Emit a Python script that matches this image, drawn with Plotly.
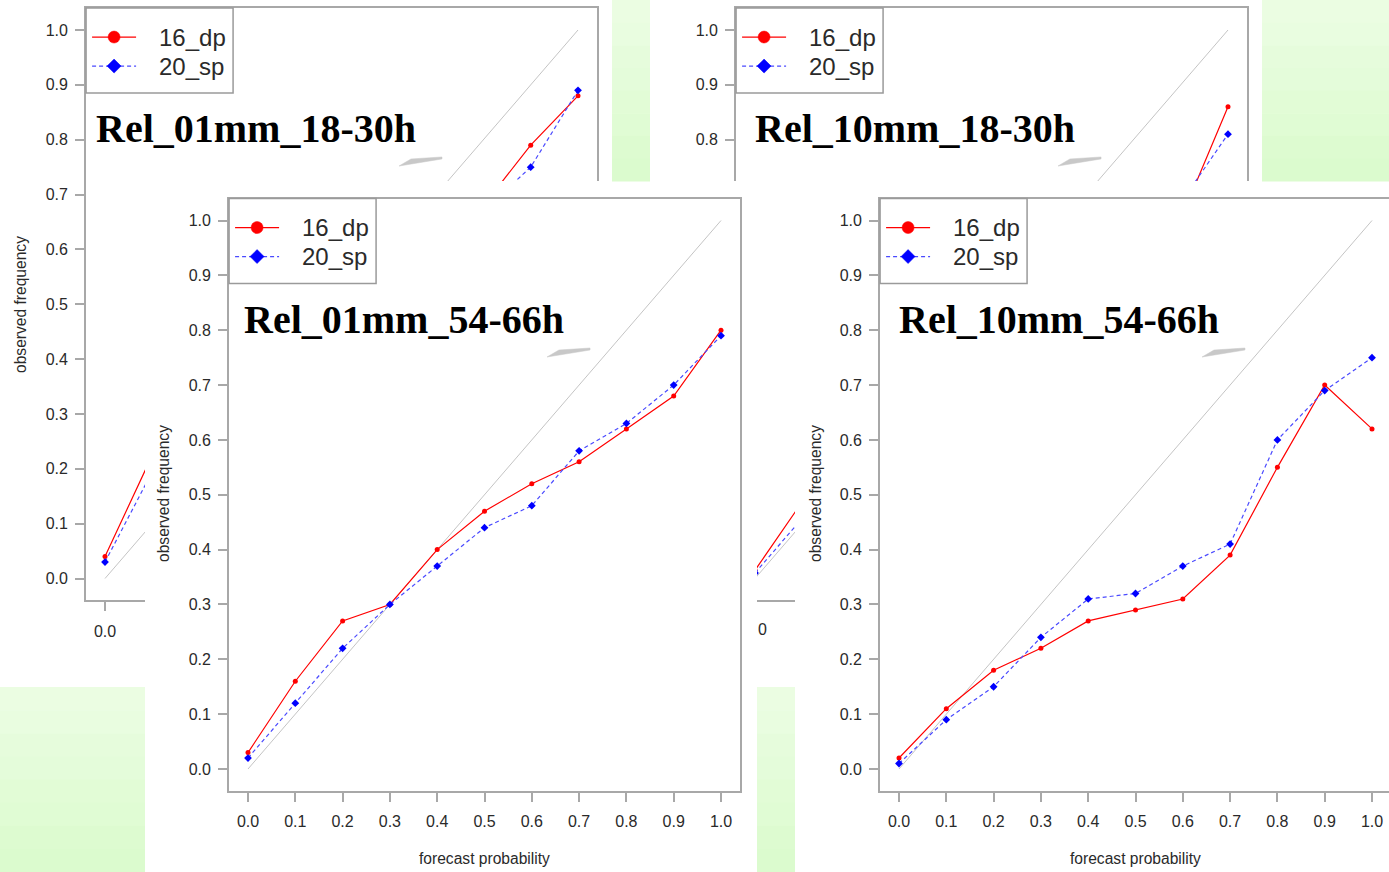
import plotly.graph_objects as go

W, H = 1389, 872

# ---------------- data ----------------
prob = [0.0, 0.1, 0.2, 0.3, 0.4, 0.5, 0.6, 0.7, 0.8, 0.9, 1.0]
tl_dp = [0.04, 0.225, 0.34, 0.42, 0.49, 0.55, 0.60, 0.64, 0.68, 0.79, 0.88]
tl_sp = [0.03, 0.195, 0.30, 0.39, 0.46, 0.52, 0.57, 0.62, 0.67, 0.75, 0.89]
tr_dp = [0.015, 0.14, 0.22, 0.27, 0.32, 0.36, 0.41, 0.46, 0.55, 0.655, 0.86]
tr_sp = [0.01, 0.11, 0.20, 0.26, 0.31, 0.36, 0.42, 0.49, 0.57, 0.685, 0.81]
bl_dp = [0.03, 0.16, 0.27, 0.30, 0.40, 0.47, 0.52, 0.56, 0.62, 0.68, 0.80]
bl_sp = [0.02, 0.12, 0.22, 0.30, 0.37, 0.44, 0.48, 0.58, 0.63, 0.70, 0.79]
br_dp = [0.02, 0.11, 0.18, 0.22, 0.27, 0.29, 0.31, 0.39, 0.55, 0.70, 0.62]
br_sp = [0.01, 0.09, 0.15, 0.24, 0.31, 0.32, 0.37, 0.41, 0.60, 0.69, 0.75]
diag_x = [0.0, 1.0]
diag_y = [0.0, 1.0]
series_names = ["16_dp", "20_sp"]
titles = ["Rel_01mm_18-30h", "Rel_10mm_18-30h", "Rel_01mm_54-66h", "Rel_10mm_54-66h"]
tick_vals = [0.0, 0.1, 0.2, 0.3, 0.4, 0.5, 0.6, 0.7, 0.8, 0.9, 1.0]
tick_text = ["0.0", "0.1", "0.2", "0.3", "0.4", "0.5", "0.6", "0.7", "0.8", "0.9", "1.0"]
x_title = "forecast probability"
y_title = "observed frequency"

# ---------------- styles ----------------
RED = "#ff0000"
BLUE = "#0000ff"
BLUE_LINE = "#4a4aff"
BOX = "#a8a8a8"
DIAG = "#c4c4c4"
TXT = "#2a2a2a"
SANS = "Liberation Sans, Arial, sans-serif"
SERIF = "Liberation Serif, Times New Roman, serif"
GREEN_TOP = (236, 253, 228)
GREEN_BOT = (218, 251, 204)
DASH = "4px,3px"

SX, SY = 473.0, 548.5


def fx(px):
    return px / W


def fy(py):
    return 1 - py / H


# panel origins (pixel of data point (0,0))
panels = {
    "TL": dict(ox=105.0, oy=578.5, dp=tl_dp, sp=tl_sp),
    "TR": dict(ox=755.0, oy=578.5, dp=tr_dp, sp=tr_sp),
    "BL": dict(ox=248.0, oy=769.0, dp=bl_dp, sp=bl_sp),
    "BR": dict(ox=899.0, oy=769.0, dp=br_dp, sp=br_sp),
}


def box(p):
    o = panels[p]
    return [o["ox"] - 0.04 * SX, o["ox"] + 1.04 * SX, o["oy"] - 1.04 * SY, o["oy"] + 0.04 * SY]


tlb, trb, blb, brb = box("TL"), box("TR"), box("BL"), box("BR")
pieces = [
    ("TL", [tlb[0], 145, tlb[2], tlb[3]], "strip_left"),
    ("TL", [145, tlb[1], tlb[2], 181], "band_right"),
    ("TR", [trb[0], trb[1], trb[2], 181], "band_full"),
    ("TR", [757, 795, 181, trb[3]], "strip_mid"),
    ("BL", [blb[0], blb[1], blb[2], blb[3]], "full"),
    ("BR", [brb[0], 1389, brb[2], brb[3]], "full_open"),
]

fig = go.Figure()
layout = dict(
    width=W, height=H, autosize=False,
    margin=dict(l=0, r=0, t=0, b=0, pad=0),
    paper_bgcolor="white", plot_bgcolor="rgba(0,0,0,0)",
    showlegend=False,
)

tickfont = dict(family=SANS, size=16, color=TXT)
XSTAND, YSTAND = 6, 4

for i, (pname, rect, style) in enumerate(pieces):
    o = panels[pname]
    k = "" if i == 0 else str(i + 1)
    xr = [(rect[0] - o["ox"]) / SX, (rect[1] - o["ox"]) / SX]
    yr = [(o["oy"] - rect[3]) / SY, (o["oy"] - rect[2]) / SY]
    xa = dict(domain=[fx(rect[0]), fx(rect[1])], range=xr, anchor="y" + k,
              showgrid=False, zeroline=False, showline=True, linecolor=BOX, linewidth=2,
              ticks="", showticklabels=False, fixedrange=True)
    ya = dict(domain=[fy(rect[3]), fy(rect[2])], range=yr, anchor="x" + k,
              showgrid=False, zeroline=False, showline=True, linecolor=BOX, linewidth=2,
              ticks="", showticklabels=False, fixedrange=True)
    tick_common = dict(ticks="outside", ticklen=9, tickwidth=1.5, tickcolor=BOX,
                       showticklabels=True, tickvals=tick_vals, ticktext=tick_text,
                       tickfont=tickfont)
    if style == "strip_left":
        xa.update(mirror=True, ticklabelstandoff=XSTAND, **tick_common)
        xa["tickvals"] = tick_vals[:1]
        xa["ticktext"] = tick_text[:1]
        ya.update(ticklabelstandoff=YSTAND, **tick_common)
    elif style == "band_right":
        xa.update(side="top")
        ya.update(side="right")
    elif style == "band_full":
        xa.update(side="top")
        ya.update(mirror=True, ticklabelstandoff=YSTAND, **tick_common)
    elif style == "strip_mid":
        ya.update(showline=False)
    elif style == "full":
        xa.update(mirror=True, ticklabelstandoff=XSTAND, **tick_common)
        ya.update(mirror=True, ticklabelstandoff=YSTAND, **tick_common)
    elif style == "full_open":
        xa.update(mirror=True, ticklabelstandoff=XSTAND, **tick_common)
        ya.update(ticklabelstandoff=YSTAND, **tick_common)
    layout["xaxis" + k] = xa
    layout["yaxis" + k] = ya

    xs, ys = "x" + k, "y" + k
    fig.add_trace(go.Scatter(x=diag_x, y=diag_y, mode="lines", xaxis=xs, yaxis=ys,
                             line=dict(color=DIAG, width=1), showlegend=False, hoverinfo="skip"))
    fig.add_trace(go.Scatter(x=prob, y=o["dp"], mode="lines+markers", xaxis=xs, yaxis=ys,
                             name=series_names[0], showlegend=False,
                             line=dict(color=RED, width=1.2),
                             marker=dict(color=RED, size=5, symbol="circle")))
    fig.add_trace(go.Scatter(x=prob, y=o["sp"], mode="lines+markers", xaxis=xs, yaxis=ys,
                             name=series_names[1], showlegend=False,
                             line=dict(color=BLUE_LINE, width=1.2, dash=DASH),
                             marker=dict(color=BLUE, size=6, symbol="diamond")))

# ---------------- annotations ----------------
ann = []
shapes = []
title_pos = {"TL": (94, 128), "TR": (753, 128), "BL": (242, 319), "BR": (897, 319)}
for t, pname in zip(titles, ["TL", "TR", "BL", "BR"]):
    tx, ty = title_pos[pname]
    ann.append(dict(text="<b>" + t + "</b>", x=fx(tx), y=fy(ty), xref="paper", yref="paper",
                    xanchor="left", yanchor="middle", showarrow=False,
                    font=dict(family=SERIF, size=40, color="black")))

axfont = dict(family=SANS, size=15.6, color=TXT)
for (x, y) in [(20, 305), (163, 494), (815, 494)]:
    ann.append(dict(text=y_title, x=fx(x), y=fy(y), xref="paper", yref="paper",
                    xanchor="center", yanchor="middle", textangle=-90, showarrow=False, font=axfont))
for (x, y) in [(484.5, 858), (1135, 858)]:
    ann.append(dict(text=x_title, x=fx(x), y=fy(y), xref="paper", yref="paper",
                    xanchor="center", yanchor="middle", showarrow=False, font=axfont))
# clipped remnant of the hidden tick label in the top-right panel
ann.append(dict(text="0", x=fx(762), y=fy(629), xref="paper", yref="paper",
                xanchor="center", yanchor="middle", showarrow=False, font=tickfont))

# ---------------- legends (R-style boxes, one per panel) ----------------
legend_styles = [
    dict(color=RED, dash="solid", symbol="circle", mcolor=RED),
    dict(color=BLUE_LINE, dash=DASH, symbol="diamond", mcolor=BLUE),
]
for pname in ["TL", "TR", "BL", "BR"]:
    b = box(pname)
    lx, ly = b[0], b[2]
    shapes.append(dict(type="rect", xref="paper", yref="paper", layer="above",
                       x0=fx(lx), x1=fx(lx + 147), y0=fy(ly + 85), y1=fy(ly),
                       fillcolor="white", line=dict(color="#9a9a9a", width=1.5)))
    for r, (nm, st) in enumerate(zip(series_names, legend_styles)):
        cy = ly + 29 + 29 * r
        shapes.append(dict(type="line", xref="paper", yref="paper", layer="above",
                           x0=fx(lx + 6), x1=fx(lx + 50), y0=fy(cy), y1=fy(cy),
                           line=dict(color=st["color"], width=1.2, dash=st["dash"])))
        cx = lx + 28
        if st["symbol"] == "circle":
            shapes.append(dict(type="circle", xref="paper", yref="paper", layer="above",
                               x0=fx(cx - 6), x1=fx(cx + 6), y0=fy(cy + 6), y1=fy(cy - 6),
                               fillcolor=st["mcolor"], line=dict(color=st["mcolor"], width=0.5)))
        else:
            d = 7
            pts = [(cx, cy - d), (cx + d, cy), (cx, cy + d), (cx - d, cy)]
            path = "M " + " L ".join("%.5f,%.5f" % (fx(a), fy(c)) for a, c in pts) + " Z"
            shapes.append(dict(type="path", xref="paper", yref="paper", layer="above", path=path,
                               fillcolor=st["mcolor"], line=dict(color=st["mcolor"], width=0.5)))
        ann.append(dict(text=nm, x=fx(lx + 71), y=fy(cy), xref="paper", yref="paper",
                        xanchor="left", yanchor="middle", showarrow=False,
                        font=dict(family=SANS, size=24, color=TXT)))

layout["annotations"] = ann

# ---------------- shapes: green background gaps + grey wedges ----------------
green_regions = [(612, 650, 0, 181), (1262, 1389, 0, 181), (0, 145, 687, 872), (757, 795, 687, 872)]
nb = 8
for (x0, x1, y0, y1) in green_regions:
    for j in range(nb):
        t = (j + 0.5) / nb
        c = tuple(int(round(GREEN_TOP[m] + (GREEN_BOT[m] - GREEN_TOP[m]) * t)) for m in range(3))
        ya0 = y0 + (y1 - y0) * j / nb
        ya1 = y0 + (y1 - y0) * (j + 1) / nb + 0.5
        shapes.append(dict(type="rect", xref="paper", yref="paper", layer="below",
                           x0=fx(x0), x1=fx(x1), y0=fy(ya1), y1=fy(ya0),
                           fillcolor="rgb(%d,%d,%d)" % c, line=dict(width=0)))

for pname in ["TL", "TR", "BL", "BR"]:
    tx, ty = title_pos[pname]
    pts = [(tx + 305, ty + 38), (tx + 317, ty + 31), (tx + 348, ty + 29), (tx + 348, ty + 31)]
    path = "M " + " L ".join("%.4f,%.4f" % (fx(px), fy(py)) for px, py in pts) + " Z"
    shapes.append(dict(type="path", xref="paper", yref="paper", path=path, layer="above",
                       fillcolor="#c8c8c8", line=dict(color="#c8c8c8", width=0.5)))
layout["shapes"] = shapes

fig.update_layout(**layout)
fig.write_html("out.html", config={"displayModeBar": False},
               post_script="document.body.style.margin='0';document.body.style.overflow='hidden';")
